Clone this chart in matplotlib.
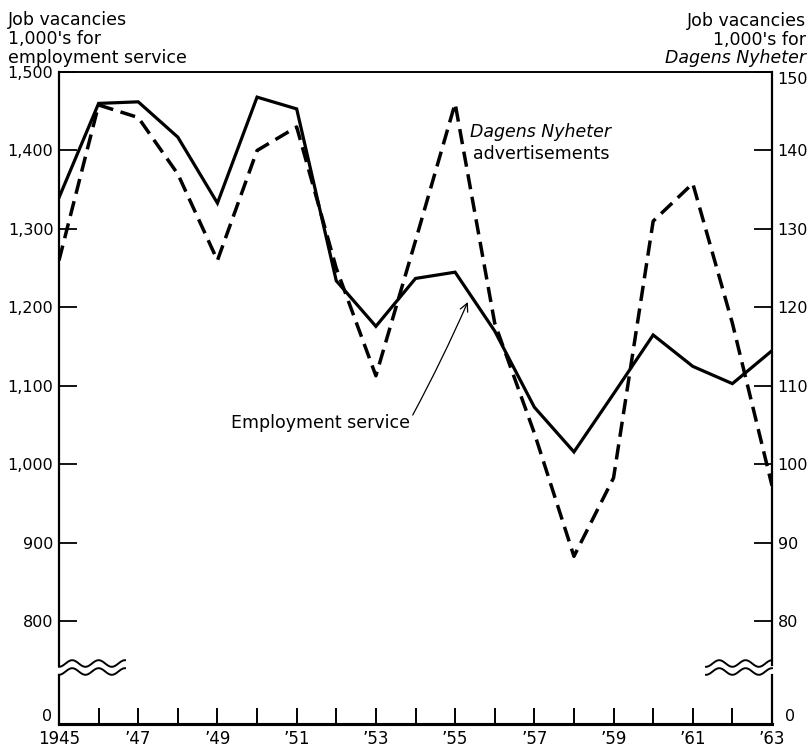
import numpy as np
import matplotlib
matplotlib.use("Agg")
import matplotlib.pyplot as plt
from matplotlib.transforms import offset_copy

# job vacancies
years = list(range(1945, 1964))
employment = [1340, 1460, 1462, 1417, 1333, 1468, 1453, 1234, 1176, 1237,
              1245, 1170, 1073, 1016, 1090, 1165, 1125, 1103, 1145]
dagens = [126, 145.8, 144.2, 137, 126, 140, 143, 125, 111.3, 128.5,
          146, 118, 104, 88.3, 98.3, 131, 135.8, 118, 97.3]

left_ticks = [800, 900, 1000, 1100, 1200, 1300, 1400, 1500]
right_ticks = [80, 90, 100, 110, 120, 130, 140, 150]

# broken axis: the bottom of the frame stands for zero
left_zero = 669.4
right_zero = 66.94

plt.rcParams['font.family'] = ['DejaVu Sans']
plt.rcParams['font.size'] = 11.5

fig = plt.figure(figsize=(8.12, 7.46), dpi=100)
ax = fig.add_axes([59 / 812, 1 - 724 / 746, 713 / 812, 652 / 746])
ax2 = ax.twinx()

ax.plot(years, employment, color='black', lw=2.3, solid_joinstyle='miter', zorder=3)
ax2.plot(years, dagens, color='black', lw=2.5, dashes=(4.4, 2.2), zorder=3)

ax.set_xlim(1945, 1963)
ax.set_ylim(left_zero, 1500)
ax2.set_ylim(right_zero, 150)

ax.set_xticks(years)
ax.set_xticklabels([str(y) if y == 1945 else ("’%02d" % (y % 100) if y % 2 else "") for y in years])
ax.set_yticks([left_zero] + left_ticks)
ax.set_yticklabels([""] + ["{:,}".format(v) for v in left_ticks])
ax2.set_yticks([right_zero] + right_ticks)
ax2.set_yticklabels([""] + [str(v) for v in right_ticks])
ax2.get_yticklabels()[-1].set_va('top')

ax.tick_params(axis='x', direction='in', length=11.5, width=1.4, pad=4, labelsize=12)
ax.tick_params(axis='y', direction='in', length=13, width=1.3, pad=4)
ax2.tick_params(axis='y', direction='in', length=13, width=1.3, pad=4)

# zero labels sit on the bottom line
ax.text(0, 0, "0", ha='right', va='bottom',
        transform=offset_copy(ax.transAxes, fig=fig, x=-7, y=0, units='dots'))
ax.text(1, 0, "0", ha='left', va='bottom',
        transform=offset_copy(ax.transAxes, fig=fig, x=13, y=0, units='dots'))

for a in (ax, ax2):
    a.spines['left'].set_visible(False)
    a.spines['right'].set_visible(False)
    a.spines['top'].set_linewidth(1.2)
    a.spines['bottom'].set_linewidth(2.2)

# vertical frame lines with the gap for the break
lo_end = (724 - 675) / 652
up_start = (724 - 665) / 652
for xs in (0, 1):
    ax.plot([xs, xs], [0, lo_end], transform=ax.transAxes, color='black', lw=1.6, clip_on=False)
    ax.plot([xs, xs], [up_start, 1], transform=ax.transAxes, color='black', lw=1.6, clip_on=False)

# wavy break marks
t = np.linspace(0, 1, 80)
wlen = 66 / 713
amp = 3.3 / 652
for c in ((724 - 663.5) / 652, (724 - 671.5) / 652):
    ax.plot(t * wlen, c - amp * np.cos(2 * np.pi * 2.5 * t), transform=ax.transAxes,
            color='black', lw=1.4, clip_on=False)
    ax.plot(1 - t * wlen, c + amp * np.cos(2 * np.pi * 2.5 * t), transform=ax.transAxes,
            color='black', lw=1.4, clip_on=False)

# annotations
ax.text(1953.86, 1053, "Employment service", ha='right', va='center', fontsize=12.5)
ax.annotate("", xy=(1955.32, 1207), xytext=(1953.93, 1063),
            arrowprops=dict(arrowstyle='->,head_length=0.5,head_width=0.25', color='black',
                            lw=0.9, shrinkA=0, shrinkB=0,
                            connectionstyle='arc3,rad=0.02'))
ax.text(1955.37, 1423, "Dagens Nyheter", style='italic', ha='left', va='center', fontsize=12.5)
ax.text(1955.45, 1395, "advertisements", ha='left', va='center', fontsize=12.5)

# axis titles
for txt, yc in (("Job vacancies", 20), ("1,000's for", 39), ("employment service", 58)):
    fig.text(8 / 812, 1 - yc / 746, txt, ha='left', va='center', fontsize=12.5)
for txt, yc, st in (("Job vacancies", 21, 'normal'), ("1,000's for", 40, 'normal'),
                    ("Dagens Nyheter", 58, 'italic')):
    fig.text(806 / 812, 1 - yc / 746, txt, ha='right', va='center', fontsize=12.5, style=st)

fig.savefig("out.png", dpi=100)
